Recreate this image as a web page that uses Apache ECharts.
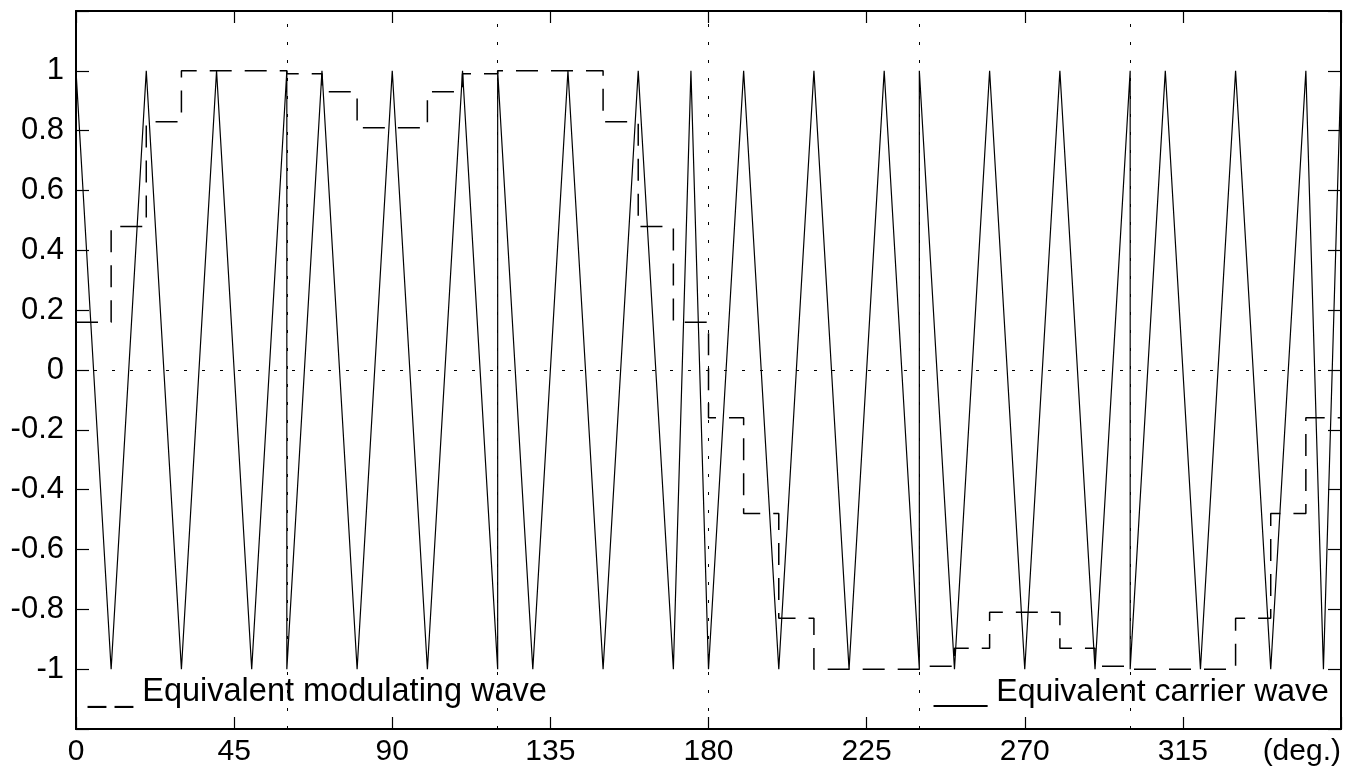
<!DOCTYPE html>
<html>
<head>
<meta charset="utf-8">
<script src="https://cdn.jsdelivr.net/npm/echarts@6/dist/echarts.min.js"></script>
<style>
    html, body { margin: 0; padding: 0; background: #fff; }
    #chart { width: 1359px; height: 775px; }
</style>
</head>
<body>
<div id="chart"></div>
<script>
// 等效载波 (折线顶点, 角度/幅值)
var carrierX = [0, 10, 20, 30, 40, 50, 60, 60, 70, 80, 90, 100, 110, 120, 120, 130, 140, 150, 160, 170, 175, 180,
    190, 200, 210, 220, 230, 240, 240, 250, 260, 270, 280, 290, 300, 300, 310, 320, 330, 340, 350, 355, 360]
var carrierY = [1, -1, 1, -1, 1, -1, 1, -1, 1, -1, 1, -1, 1, -1, 1, -1, 1, -1, 1, -1, 1, -1,
    1, -1, 1, -1, 1, -1, 1, -1, 1, -1, 1, -1, 1, -1, 1, -1, 1, -1, 1, -1, 1]

// 等效调制波 (阶梯: 边界 + 每段电平)
var modEdges = [0, 10, 20, 30, 60, 70, 80, 100, 110, 120, 150, 160, 170, 180, 190, 200, 210, 240, 250, 260, 280, 290, 300, 330, 340, 350, 360]
var modLevels = [0.16, 0.48, 0.83, 1, 0.99, 0.93, 0.81, 0.93, 0.99, 1, 0.83, 0.48, 0.16,
    -0.16, -0.48, -0.83, -1, -0.99, -0.93, -0.81, -0.93, -0.99, -1, -0.83, -0.48, -0.16]

// 参考线位置
var sectorLines = [60, 120, 180, 240, 300]
var legendNames = ['Equivalent modulating wave', 'Equivalent carrier wave']

var chart = echarts.init(document.getElementById('chart'))

var carrierData = []
for (var i = 0; i < carrierX.length; i++) {
    carrierData.push([carrierX[i], carrierY[i]])
}
var modData = []
for (var j = 0; j < modLevels.length; j++) {
    modData.push([modEdges[j], modLevels[j]])
    modData.push([modEdges[j + 1], modLevels[j]])
}

var font = 'Liberation Sans'
var dotted = { color: '#000', width: 1, type: [3, 15] }

var baseX = {
    type: 'value', min: 0, max: 360, interval: 45,
    axisLine: { show: true, onZero: false, lineStyle: { color: '#000', width: 2 } },
    axisTick: { show: true, inside: true, length: 12, lineStyle: { color: '#000', width: 1.2 } },
    splitLine: { show: false }
}
var baseY = {
    type: 'value', min: -1.2, max: 1.2, interval: 0.2,
    axisLine: { show: true, onZero: false, lineStyle: { color: '#000', width: 2 } },
    axisTick: { show: true, inside: true, length: 13, lineStyle: { color: '#000', width: 1.2 } },
    splitLine: { show: false }
}

var option = {
    backgroundColor: '#fff',
    animation: false,
    grid: { left: 76, right: 18, top: 11, bottom: 46, show: false },
    xAxis: [
        Object.assign({}, baseX, {
            position: 'bottom',
            axisLabel: {
                color: '#000', fontFamily: font, fontSize: 30, margin: 8,
                alignMaxLabel: 'right',
                formatter: function (v) { return v === 360 ? '(deg.)' : String(v) }
            }
        }),
        Object.assign({}, baseX, { position: 'top', axisLabel: { show: false } })
    ],
    yAxis: [
        Object.assign({}, baseY, {
            position: 'left',
            axisLabel: {
                color: '#000', fontFamily: font, fontSize: 31, margin: 12,
                formatter: function (v) {
                    if (Math.abs(v) > 1.01) return ''
                    return String(+v.toFixed(1))
                }
            }
        }),
        Object.assign({}, baseY, { position: 'right', axisLabel: { show: false } })
    ],
    series: [
        {
            name: legendNames[1],
            type: 'line',
            data: carrierData,
            showSymbol: false,
            lineStyle: { color: '#000', width: 1.2 },
            markLine: {
                silent: true,
                symbol: 'none',
                label: { show: false },
                lineStyle: dotted,
                data: [{ yAxis: 0 }].concat(sectorLines.map(function (d) { return { xAxis: d } }))
            },
            z: 3
        },
        {
            name: legendNames[0],
            type: 'line',
            data: modData,
            showSymbol: false,
            lineStyle: { color: '#000', width: 1.5, type: [22, 13] },
            z: 2
        }
    ],
    // 图例 (原图为文字形式)
    graphic: [
        {
            type: 'text', left: 88, top: 676,
            style: { text: '_ _ ' + legendNames[0], font: '32.5px "Liberation Sans"', fill: '#000' }
        },
        {
            type: 'text', left: 934, top: 676,
            style: { text: '___ ' + legendNames[1], font: '32px "Liberation Sans"', fill: '#000' }
        }
    ]
}

chart.setOption(option)
</script>
</body>
</html>
